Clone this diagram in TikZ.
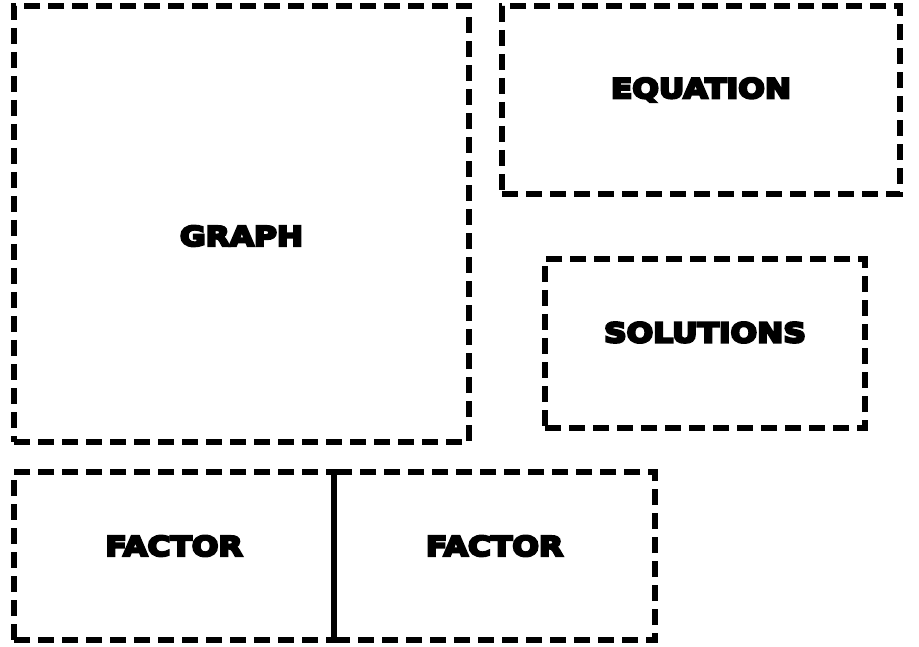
\documentclass[tikz,border=0pt]{standalone}
\usepackage{fontspec}
\setmainfont{DejaVu Sans}[BoldFeatures={FakeStretch=1.16,FakeBold=9}]
\usetikzlibrary{positioning}

\tikzset{
  panel/.style={draw,line width=5.5pt,dash pattern=on 16pt off 8pt,inner sep=0pt,outer sep=0pt,anchor=north west},
  caption/.style={font=\fontsize{27}{29}\selectfont\bfseries}
}

\begin{document}
\begin{tikzpicture}[x=1pt,y=-1pt]
\useasboundingbox (0,0) rectangle (919,647);
% panels
\node[panel,minimum width=455pt,minimum height=436pt] (graph) at (14,6) {};
\node[panel,minimum width=398pt,minimum height=188pt] (eq) at (502,6) {};
\node[panel,minimum width=320pt,minimum height=169pt] (sol) at (545,259) {};
\node[panel,minimum width=320pt,minimum height=168pt] (fl) at (14,472) {};
\node[panel,minimum width=321pt,minimum height=168pt] (fr) at (334,472) {};
\draw[line width=5pt] (fl.north east) -- (fl.south east);
% captions
\node[caption] (tgraph) at ([yshift=-12pt]graph.center) {GRAPH};
\node[caption] (teq) at ([yshift=10pt]eq.center) {EQUATION};
\node[caption] (tsol) at ([yshift=11pt]sol.center) {SOLUTIONS};
\node[caption] (tfl) at ([yshift=10pt]fl.center) {FACTOR};
\node[caption] (tfr) at ([yshift=10pt]fr.center) {FACTOR};
\end{tikzpicture}
\end{document}
